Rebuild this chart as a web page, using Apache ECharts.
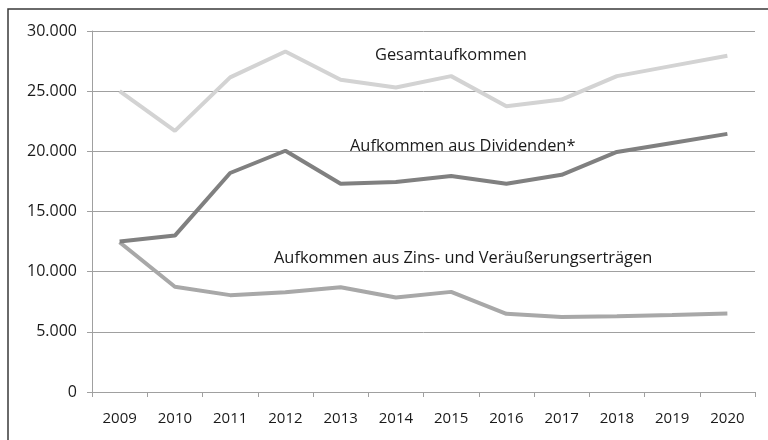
<!DOCTYPE html>
<html>
<head>
<meta charset="utf-8">
<script src="https://cdn.jsdelivr.net/npm/echarts@6/dist/echarts.min.js"></script>
<style>html,body{margin:0;padding:0;background:#fff}#c{width:768px;height:440px}</style>
</head>
<body>
<div id="c"></div>
<script>
const years = ['2009','2010','2011','2012','2013','2014','2015','2016','2017','2018','2019','2020'];
const gesamt = [25000, 21700, 26150, 28300, 25950, 25300, 26250, 23750, 24300, 26250, 27100, 27950];
const dividenden = [12500, 13000, 18200, 20050, 17300, 17450, 17950, 17300, 18050, 19950, 20700, 21450];
const zins = [12450, 8750, 8050, 8280, 8700, 7850, 8320, 6500, 6230, 6300, 6400, 6520];
const labels = ['Gesamtaufkommen', 'Aufkommen aus Dividenden*', 'Aufkommen aus Zins- und Veräußerungserträgen'];

const FONT = '"Open Sans", sans-serif';
const chart = echarts.init(document.getElementById('c'));
function fmt(v){ return String(v).replace(/\B(?=(\d{3})+(?!\d))/g, '.'); }
chart.setOption({
  animation: false,
  backgroundColor: '#fff',
  grid: { left: 92, right: 13, top: 31, bottom: 48 },
  xAxis: {
    type: 'category', data: years, boundaryGap: true,
    axisLine: { lineStyle: { color: '#a0a0a0', width: 1 } },
    axisTick: { show: true, length: 5, lineStyle: { color: '#a0a0a0' } },
    axisLabel: { color: '#1a1a1a', fontFamily: FONT, fontSize: 15, margin: 19 }
  },
  yAxis: {
    type: 'value', min: 0, max: 30000, interval: 5000,
    axisLine: { show: true, lineStyle: { color: '#a0a0a0', width: 1 } },
    axisTick: { show: true, length: 5, lineStyle: { color: '#a0a0a0' } },
    splitLine: { lineStyle: { color: '#a0a0a0', width: 1 } },
    axisLabel: { color: '#1a1a1a', fontFamily: FONT, fontSize: 16, margin: 15, formatter: fmt }
  },
  graphic: [
    { type: 'rect', shape: { x: 8, y: 9, width: 800, height: 500 }, style: { fill: 'none', stroke: '#3a3a3a', lineWidth: 1.5 }, silent: true, z: 0 },
    { type: 'text', left: 375, top: 47, style: { text: labels[0], font: '16.4px ' + FONT, fill: '#1a1a1a' } },
    { type: 'text', left: 350, top: 138, style: { text: labels[1], font: '16.4px ' + FONT, fill: '#1a1a1a' } },
    { type: 'text', left: 274, top: 250, style: { text: labels[2], font: '16.4px ' + FONT, fill: '#1a1a1a' } }
  ],
  series: [
    { name: labels[0], type: 'line', data: gesamt, symbol: 'none', lineStyle: { color: '#d3d3d3', width: 4 }, z: 3 },
    { name: labels[1], type: 'line', data: dividenden, symbol: 'none', lineStyle: { color: '#808080', width: 4 }, z: 4 },
    { name: labels[2], type: 'line', data: zins, symbol: 'none', lineStyle: { color: '#a8a8a8', width: 4 }, z: 3 }
  ]
});
</script>
</body>
</html>
